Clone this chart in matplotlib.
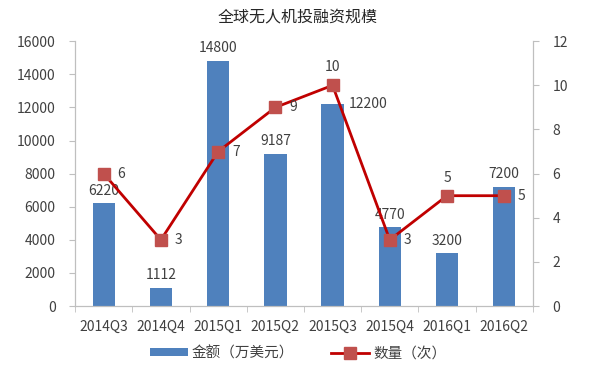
import matplotlib

matplotlib.use("Agg")
import matplotlib.pyplot as plt
import numpy as np

plt.rcParams["font.family"] = ["Noto Sans CJK SC", "DejaVu Sans"]

quarters = ["2014Q3", "2014Q4", "2015Q1", "2015Q2", "2015Q3", "2015Q4", "2016Q1", "2016Q2"]
amount = [6220, 1112, 14800, 9187, 12200, 4770, 3200, 7200]   # 万美元
deals = [6, 3, 7, 9, 10, 3, 5, 5]                               # 次

BAR_C = "#4F81BD"
LINE_C = "#C00000"
MARK_C = "#C0504D"
AXIS_C = "#BFBFBF"
TEXT_C = "#404040"

fig = plt.figure(figsize=(5.96, 3.71), dpi=100)
ax = fig.add_axes([0.126, 0.175, 0.768, 0.714])
ax2 = ax.twinx()

x = np.arange(len(quarters))
ax.bar(x, amount, width=0.39, color=BAR_C, label="金额（万美元）", zorder=2)
ax2.plot(x, deals, color=LINE_C, lw=2.0, marker="s", ms=8.5,
         mfc=MARK_C, mec=MARK_C, label="数量（次）")

ax.set_xlim(-0.5, len(quarters) - 0.5)
ax.set_ylim(0, 16000)
ax2.set_ylim(0, 12)
ax.set_yticks(np.arange(0, 16001, 2000))
ax2.set_yticks(np.arange(0, 13, 2))
ax.set_xticks(x)
ax.set_xticklabels(quarters)
ax.set_xticks(np.arange(-0.5, len(quarters)), minor=True)

for a in (ax, ax2):
    a.spines["top"].set_visible(False)
    for s in ("left", "right", "bottom"):
        a.spines[s].set_color(AXIS_C)
    a.tick_params(colors=AXIS_C, labelcolor=TEXT_C, labelsize=10, length=4, width=0.8)
ax.tick_params(axis="x", which="major", length=0, pad=10)
ax.tick_params(axis="x", which="minor", length=4, color=AXIS_C)
ax.tick_params(axis="y", pad=10)
ax2.tick_params(axis="y", pad=10)

# bar value labels (offsets in points)
bar_off = {4: (12, 0, "left", "center")}
for i, v in enumerate(amount):
    dx, dy, ha, va = bar_off.get(i, (0, 4, "center", "bottom"))
    ax.annotate(str(v), (x[i], v), xytext=(dx, dy), textcoords="offset points",
                ha=ha, va=va, fontsize=10, color=TEXT_C)

# line value labels
line_off = {4: (0, 8, "center", "bottom"), 6: (0, 8, "center", "bottom")}
for i, v in enumerate(deals):
    dx, dy, ha, va = line_off.get(i, (10, 0, "left", "center"))
    ax2.annotate(str(v), (x[i], v), xytext=(dx, dy), textcoords="offset points",
                 ha=ha, va=va, fontsize=10, color=TEXT_C)

fig.text(0.5, 0.955, "全球无人机投融资规模", ha="center", va="center",
         fontsize=11.5, color="#262626")

h1, l1 = ax.get_legend_handles_labels()
h2, l2 = ax2.get_legend_handles_labels()
fig.legend(h1 + h2, l1 + l2, loc="center", bbox_to_anchor=(0.5, 0.048), ncol=2,
           frameon=False, fontsize=10.5, handlelength=2.6, handleheight=0.5,
           columnspacing=2.5, handletextpad=0.3, labelcolor=TEXT_C)

fig.savefig("out.png", dpi=100)
